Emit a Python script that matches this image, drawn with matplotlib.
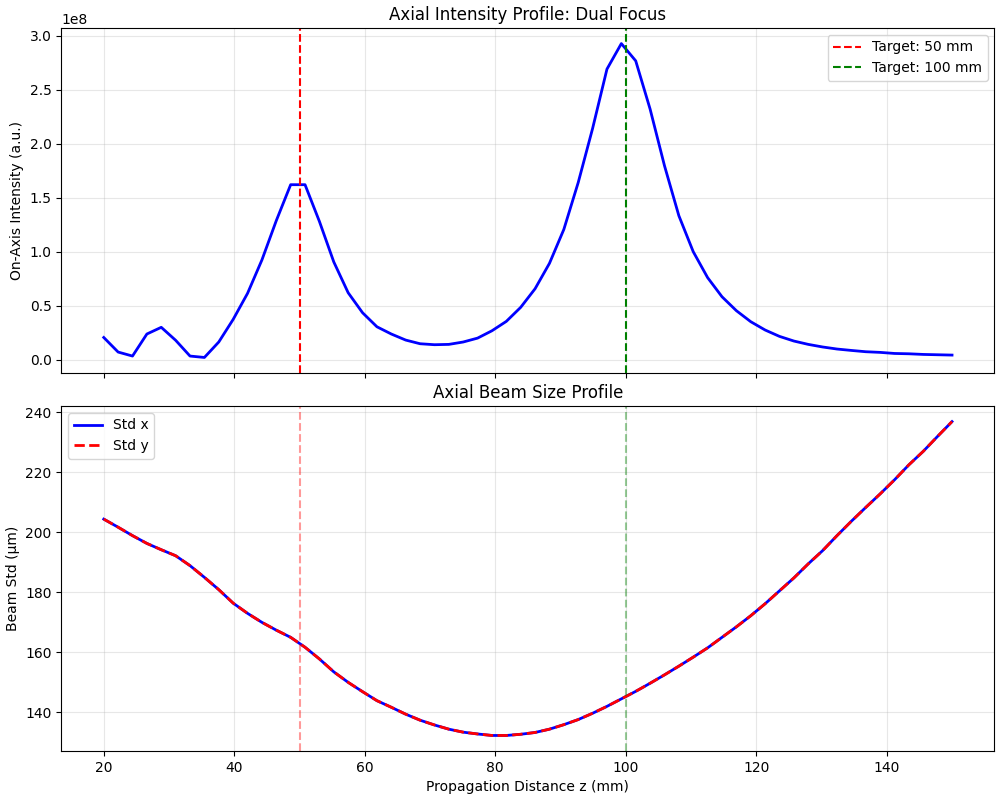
import numpy as np
import matplotlib
matplotlib.use('Agg')
import matplotlib.pyplot as plt

# propagation distance grid (mm), 60 samples
z_start, z_stop, n_z = 20, 150, 60
target_1 = 50
target_2 = 100

# on-axis intensity, in units of 1e8 (a.u.)
intensity_e8 = [
    0.206, 0.071, 0.034, 0.238, 0.300, 0.180, 0.034, 0.021, 0.164, 0.373,
    0.614, 0.923, 1.287, 1.620, 1.620, 1.280, 0.905, 0.620, 0.435, 0.305,
    0.238, 0.182, 0.148, 0.139, 0.142, 0.164, 0.200, 0.268, 0.355, 0.485,
    0.657, 0.892, 1.206, 1.640, 2.140, 2.690, 2.926, 2.766, 2.320, 1.796,
    1.333, 1.000, 0.760, 0.583, 0.454, 0.352, 0.275, 0.216, 0.173, 0.142,
    0.118, 0.099, 0.086, 0.074, 0.068, 0.058, 0.055, 0.049, 0.046, 0.043,
]

# beam std (um)
std_x = [
    204.4, 201.7, 198.9, 196.3, 194.2, 192.2, 188.9, 185.0, 180.9, 176.4,
    173.0, 170.0, 167.4, 165.0, 161.7, 157.8, 153.5, 150.0, 146.9, 143.9,
    141.7, 139.4, 137.4, 135.8, 134.4, 133.4, 132.8, 132.3, 132.3, 132.7,
    133.3, 134.4, 135.9, 137.6, 139.7, 142.0, 144.5, 147.0, 149.7, 152.5,
    155.4, 158.4, 161.5, 165.0, 168.5, 172.2, 176.2, 180.5, 184.8, 189.5,
    193.9, 198.9, 203.7, 208.3, 212.8, 217.5, 222.5, 227.0, 232.0, 236.9,
]
std_y = list(std_x)

z = np.linspace(z_start, z_stop, n_z)
intensity = np.array(intensity_e8) * 1e8

fig, (ax1, ax2) = plt.subplots(2, 1, figsize=(10, 8), dpi=100, sharex=True)

ax1.plot(z, intensity, 'b-', linewidth=2)
ax1.axvline(target_1, color='r', linestyle='--', label=f'Target: {target_1} mm')
ax1.axvline(target_2, color='g', linestyle='--', label=f'Target: {target_2} mm')
ax1.set_ylabel('On-Axis Intensity (a.u.)')
ax1.set_title('Axial Intensity Profile: Dual Focus')
ax1.legend()
ax1.grid(True, alpha=0.3)

ax2.plot(z, std_x, 'b-', linewidth=2, label='Std x')
ax2.plot(z, std_y, 'r--', linewidth=2, label='Std y')
ax2.axvline(target_1, color='r', linestyle='--', alpha=0.4)
ax2.axvline(target_2, color='g', linestyle='--', alpha=0.4)
ax2.set_xlabel('Propagation Distance z (mm)')
ax2.set_ylabel('Beam Std (μm)')
ax2.set_title('Axial Beam Size Profile')
ax2.legend()
ax2.grid(True, alpha=0.3)

plt.tight_layout(pad=0.4)
plt.savefig('out.png')
